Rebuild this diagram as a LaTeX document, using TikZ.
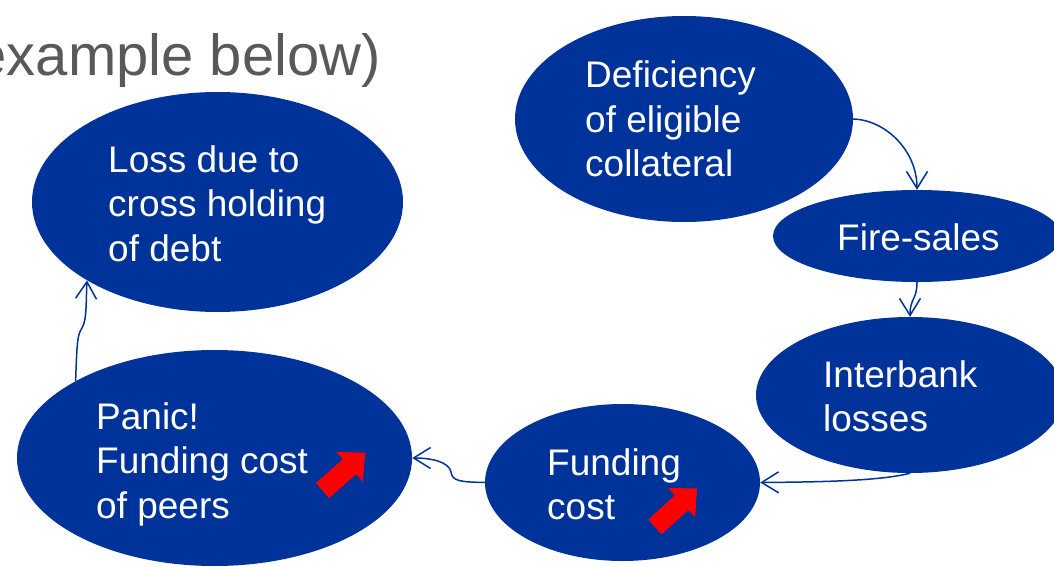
\documentclass[tikz,border=0pt]{standalone}
\usepackage{fontspec}
\setmainfont{Liberation Sans}
\usetikzlibrary{shapes.geometric,arrows.meta}
\definecolor{bubble}{RGB}{0,51,153}
\definecolor{titlegray}{RGB}{89,89,89}
\definecolor{upred}{RGB}{255,0,0}
% stacked lines whose reference point is the first baseline
\newcommand\linestack[1]{\vtop{\baselineskip=44.5pt\lineskiplimit=-100pt #1}}
\begin{document}
\begin{tikzpicture}[x=1pt,y=-1pt,
  bubblenode/.style={ellipse,fill=bubble,draw=none,inner sep=0pt},
  bubbletext/.style={anchor=base west,inner sep=0pt,text=white,
    font=\fontsize{37}{44.5}\selectfont},
  link/.style={draw=bubble,line width=1.5pt,
    -{Straight Barb[length=17pt,width=21pt,line width=1.5pt]}},
  redarrow/.pic={\fill[upred] (0,-10) -- (36,-10) -- (36,-20) -- (57,0)
      -- (36,20) -- (36,10) -- (0,10) -- cycle;}]
\useasboundingbox (0,0) rectangle (1054,567);
\clip (0,0) rectangle (1054,567);

% title fragment
\node[anchor=base east,inner sep=0pt,text=titlegray,
  font=\fontsize{58}{70}\selectfont] (title) at (381,76) {example below)};

% bubbles
\node[bubblenode,minimum width=338pt,minimum height=206pt] (def)   at (684,119)   {};
\node[bubblenode,minimum width=371pt,minimum height=220pt] (loss)  at (217.5,202) {};
\node[bubblenode,minimum width=288pt,minimum height=92pt]  (fire)  at (917,236)   {};
\node[bubblenode,minimum width=308pt,minimum height=156pt] (ib)    at (910,395)   {};
\node[bubblenode,minimum width=395pt,minimum height=216pt] (panic) at (214.5,458) {};
\node[bubblenode,minimum width=275pt,minimum height=157pt] (fund)  at (622.5,482.5) {};

% connectors
\draw[link] (def.east) .. controls (885,120) and (917,150) .. (fire.north);
\draw[link] (fire.south) .. controls (917,300) and (910,298) .. (ib.north);
\draw[link] (ib.south) .. controls (880,481) and (820,482) .. (fund.east);
\draw[link] (fund.west) .. controls (460,482) and (452,481) .. (451,472)
  .. controls (449,462) and (432,458) .. (panic.east);
\draw[link] (panic.151) .. controls (77,345) and (77,335) .. (82,328)
  .. controls (87,320) and (86,300) .. (loss.211);

% labels
\node[bubbletext] (def-t) at (585,88)
  {\linestack{\hbox{Deficiency}\hbox{of eligible}\hbox{collateral}}};
\node[bubbletext] (loss-t) at (108,172)
  {\linestack{\hbox{Loss due to}\hbox{cross holding}\hbox{of debt}}};
\node[bubbletext] (fire-t) at (837,250) {Fire-sales};
\node[bubbletext] (ib-t) at (823,387)
  {\linestack{\hbox{Interbank}\hbox{losses}}};
\node[bubbletext] (panic-t) at (96,429)
  {\linestack{\hbox{Panic!}\hbox{Funding cost}\hbox{of peers}}};
\node[bubbletext] (fund-t) at (547,475)
  {\linestack{\hbox{Funding}\hbox{cost}}};

% rising-cost markers
\pic[rotate=41.4] at (322.5,490.5) {redarrow};
\pic[rotate=42.5] at (655,527) {redarrow};
\end{tikzpicture}
\end{document}
